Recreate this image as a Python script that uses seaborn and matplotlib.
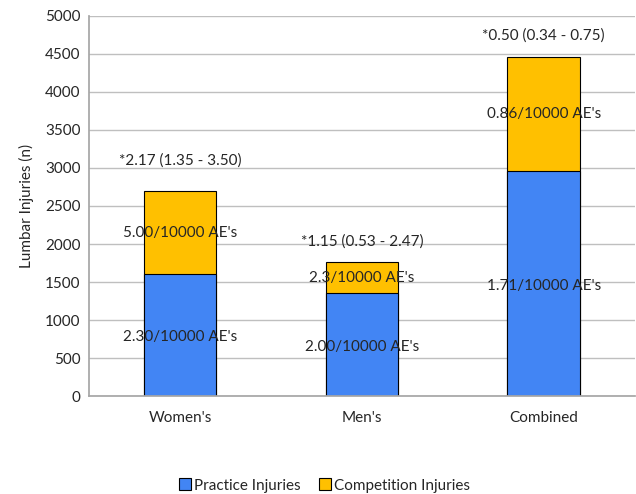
import matplotlib.pyplot as plt
import pandas as pd
import seaborn as sns
from matplotlib.patches import Patch

groups = ["Women's", "Men's", "Combined"]
practice = [1605, 1355, 2960]
competition = [1092, 404, 1496]
practice_rates = ["2.30/10000 AE's", "2.00/10000 AE's", "1.71/10000 AE's"]
competition_rates = ["5.00/10000 AE's", "2.3/10000 AE's", "0.86/10000 AE's"]
ratios = ["*2.17 (1.35 - 3.50)", "*1.15 (0.53 - 2.47)", "*0.50 (0.34 - 0.75)"]

BLUE = "#4285F4"
GOLD = "#FFC000"
FS = 11

df = pd.DataFrame({"group": groups, "practice": practice, "competition": competition})
df["total"] = df["practice"] + df["competition"]

sns.set_theme(style="white")
plt.rcParams["font.family"] = ["Lato", "DejaVu Sans"]

fig = plt.figure(figsize=(6.36, 4.94), dpi=100)
ax = fig.add_axes([0.140, 0.198, 0.858, 0.770])

sns.barplot(data=df, x="group", y="total", color=GOLD, width=0.4,
            edgecolor="black", linewidth=0.8, saturation=1, ax=ax)
sns.barplot(data=df, x="group", y="practice", color=BLUE, width=0.4,
            edgecolor="black", linewidth=0.8, saturation=1, ax=ax)

ax.set_ylim(0, 5000)
ax.set_yticks(range(0, 5001, 500))
ax.yaxis.grid(True, color="#BFBFBF", linewidth=1)
ax.set_axisbelow(True)
ax.set_xlabel("")
ax.set_ylabel("Lumbar Injuries (n)", fontsize=FS, labelpad=8)
ax.tick_params(axis="both", labelsize=FS, length=0, pad=6)
ax.tick_params(axis="x", pad=11)
for s in ["top", "right"]:
    ax.spines[s].set_visible(False)
for s in ["left", "bottom"]:
    ax.spines[s].set_color("#A6A6A6")

top_offset = [400, 280, 290]
for i, row in df.iterrows():
    ax.text(i, row["practice"] / 2 - 30, practice_rates[i], ha="center", va="center", fontsize=FS)
    ax.text(i, row["practice"] + row["competition"] / 2, competition_rates[i],
            ha="center", va="center", fontsize=FS)
    ax.text(i, row["total"] + top_offset[i], ratios[i], ha="center", va="center", fontsize=FS)

handles = [Patch(facecolor=BLUE, edgecolor="black", linewidth=0.8, label="Practice Injuries"),
           Patch(facecolor=GOLD, edgecolor="black", linewidth=0.8, label="Competition Injuries")]
fig.legend(handles=handles, loc="lower center", bbox_to_anchor=(0.51, -0.025), ncol=2,
           frameon=False, fontsize=FS, handlelength=0.8, handleheight=0.8,
           handletextpad=0.2, columnspacing=1.2)

fig.savefig("out.png", dpi=100)
